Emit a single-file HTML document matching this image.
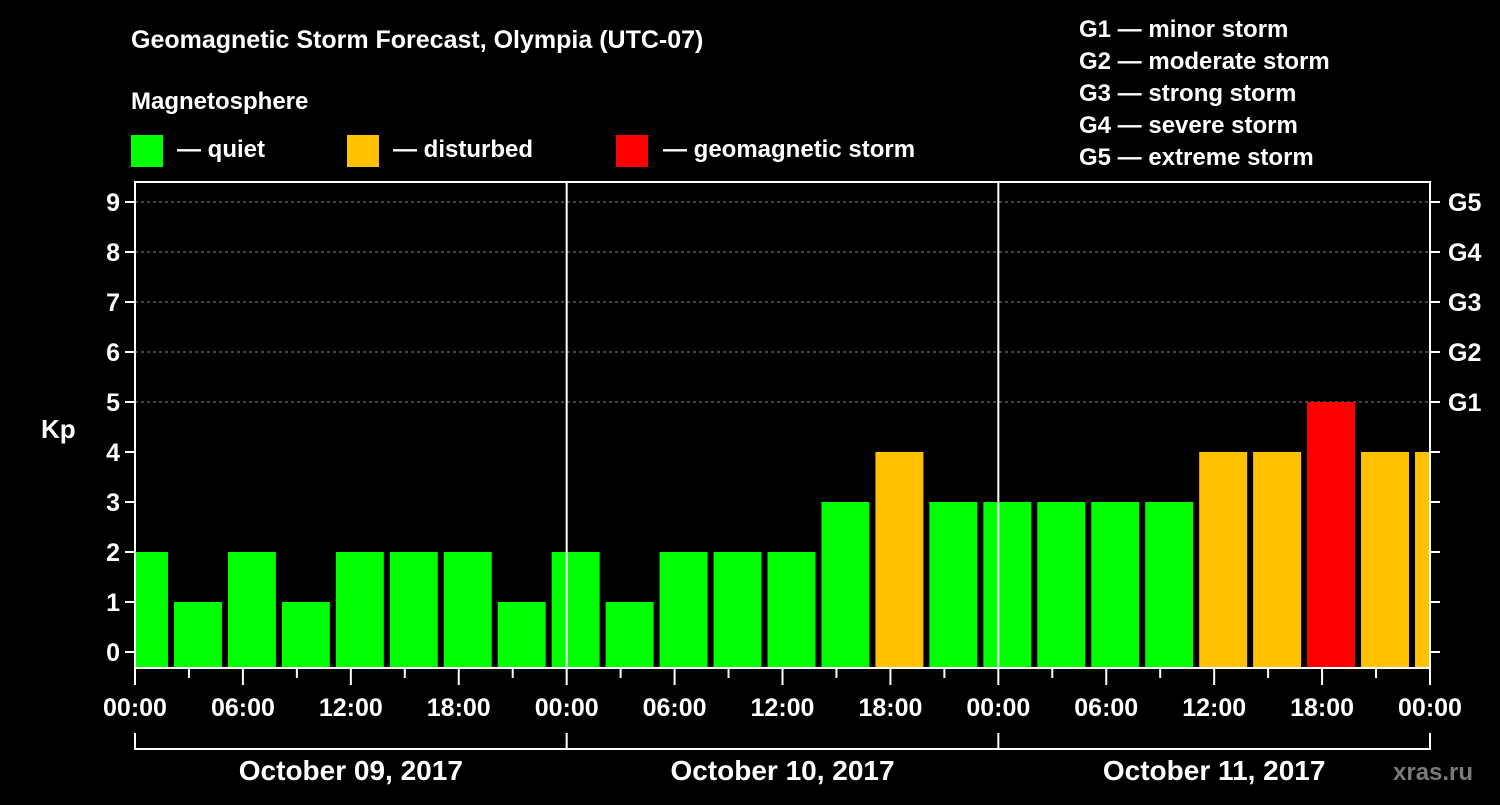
<!DOCTYPE html>
<html><head><meta charset="utf-8"><style>
body{margin:0;background:#000;width:1500px;height:800px;overflow:hidden}
svg text{font-family:"Liberation Sans",sans-serif;font-weight:bold;fill:#fff}
</style></head><body>
<svg id="chart" width="1500" height="800" xmlns="http://www.w3.org/2000/svg">
<rect width="1500" height="800" fill="#000"/>
<text x="131" y="48" font-size="25">Geomagnetic Storm Forecast, Olympia (UTC-07)</text>
<text x="131" y="109" font-size="24">Magnetosphere</text>
<g>
<rect x="131" y="135" width="32" height="32" fill="#00ff00"/>
<text x="177" y="157" font-size="24">— quiet</text>
<rect x="347" y="135" width="32" height="32" fill="#ffc000"/>
<text x="393" y="157" font-size="24">— disturbed</text>
<rect x="616" y="135" width="32" height="32" fill="#ff0000"/>
<text x="663" y="157" font-size="24">— geomagnetic storm</text>
</g>
<g font-size="24">
<text x="1079" y="37">G1 — minor storm</text>
<text x="1079" y="69">G2 — moderate storm</text>
<text x="1079" y="101">G3 — strong storm</text>
<text x="1079" y="133">G4 — severe storm</text>
<text x="1079" y="165">G5 — extreme storm</text>
</g>
<text x="41" y="438" font-size="26">Kp</text>
<text x="1393" y="780" font-size="24" fill="#888" style="fill:#7a7a7a">xras.ru</text>
<g id="grid"></g><g id="bars"></g><g id="axes"></g>
</svg>
<script>
const kpValues=[2,1,2,1,2,2,2,1,2,1,2,2,2,3,4,3,3,3,3,3,4,4,5,4,4];
const yTicks=[0,1,2,3,4,5,6,7,8,9];
const gLabels=["G1","G2","G3","G4","G5"];
const timeLabels=["00:00","06:00","12:00","18:00","00:00","06:00","12:00","18:00","00:00","06:00","12:00","18:00","00:00"];
const dayLabels=["October 09, 2017","October 10, 2017","October 11, 2017"];
const firstBinStartHour=-1, binHours=3;
const L=135,R=1430,T=182,B=668;
const totalHours=72;
const xH=h=>L+(R-L)*h/totalHours;
const yK=k=>652-50*k;
const NS="http://www.w3.org/2000/svg";
function mk(p,tag,attrs){const e=document.createElementNS(NS,tag);for(const k in attrs)e.setAttribute(k,attrs[k]);p.appendChild(e);return e;}
const grid=document.getElementById('grid'),bars=document.getElementById('bars'),axes=document.getElementById('axes');
const color=k=>k>=5?"#ff0000":(k>=4?"#ffc000":"#00ff00");
kpValues.forEach((k,i)=>{
  let h0=firstBinStartHour+i*binHours,h1=h0+binHours;
  let x0=xH(h0)+3,x1=xH(h1)-3;
  x0=Math.max(x0,L+1);x1=Math.min(x1,R);
  const r=mk(bars,'rect',{x:x0,y:yK(k),width:x1-x0,height:B-yK(k),fill:color(k)});
  
  
});
yTicks.forEach(k=>{
  const y=yK(k);
  if(k>=5){const g=mk(grid,'line',{x1:L,x2:R,y1:y,y2:y,stroke:'#888','stroke-dasharray':'3,3','stroke-width':1});
    }
  mk(axes,'line',{x1:L-10,x2:L,y1:y,y2:y,stroke:'#fff','stroke-width':2});
  mk(axes,'line',{x1:R,x2:R+10,y1:y,y2:y,stroke:'#fff','stroke-width':2});
  const t=mk(axes,'text',{x:L-15,y:y+9,'font-size':25,'text-anchor':'end'});t.textContent=k;
  
  if(k>=5){const g=mk(axes,'text',{x:R+18,y:y+9,'font-size':25});g.textContent=gLabels[k-5];
    }
});
// frame
const fr=mk(axes,'rect',{x:L,y:T,width:R-L,height:B-T,fill:'none',stroke:'#fff','stroke-width':2});

for(let d=1;d<3;d++){const x=xH(d*24);const l=mk(axes,'line',{x1:x,x2:x,y1:T,y2:B,stroke:'#fff','stroke-width':2});
  }
for(let h=0;h<=totalHours;h+=3){const x=xH(h);mk(axes,'line',{x1:x,x2:x,y1:B,y2:h%6==0?685:678,stroke:'#fff','stroke-width':2});}
timeLabels.forEach((s,i)=>{const t=mk(axes,'text',{x:xH(i*6),y:716,'font-size':25,'text-anchor':'middle'});t.textContent=s;
  });
mk(axes,'line',{x1:L,x2:R,y1:749,y2:749,stroke:'#fff','stroke-width':2});
for(let d=0;d<=3;d++){const x=xH(d*24);mk(axes,'line',{x1:x,x2:x,y1:733,y2:750,stroke:'#fff','stroke-width':2});}
dayLabels.forEach((s,i)=>{const t=mk(axes,'text',{x:xH(i*24+12),y:780,'font-size':28,'text-anchor':'middle'});t.textContent=s;
  });
</script>
</body></html>
